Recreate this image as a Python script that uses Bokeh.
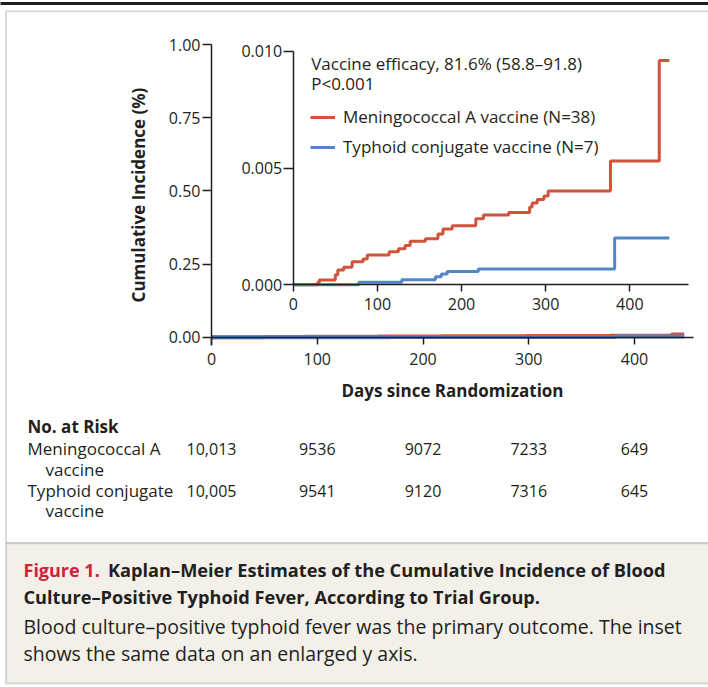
from bokeh.plotting import figure
from bokeh.models import (Range1d, LinearAxis, FixedTicker, PrintfTickFormatter, Label, LabelSet,
                          ColumnDataSource, Legend, LegendItem, BoxAnnotation)
from bokeh.core.properties import value
from bokeh.embed import file_html
from bokeh.resources import INLINE

# ---------------- data ----------------
red_days = [0, 29, 31, 50, 53, 60, 70, 83, 88, 114, 125, 133, 139, 157, 172, 178, 189,
            217, 226, 256, 281, 284, 290, 298, 303, 377, 435, 447]
red_inc = [0, 0.0001, 0.00021, 0.00043, 0.00063, 0.00075, 0.00099, 0.00111, 0.00128, 0.00142,
           0.00154, 0.00168, 0.00186, 0.00197, 0.00218, 0.00239, 0.00253, 0.00283, 0.00299,
           0.0031, 0.00333, 0.0035, 0.00365, 0.0038, 0.00402, 0.0053, 0.0096, 0.0096]
blue_days = [0, 78, 129, 169, 176, 183, 220, 382, 447]
blue_inc = [0, 0.00011, 0.00022, 0.00034, 0.00046, 0.00057, 0.00068, 0.0020, 0.0020]

red_label = "Meningococcal A vaccine (N=38)"
blue_label = "Typhoid conjugate vaccine (N=7)"

main_xticks = [0, 100, 200, 300, 400]
main_yticks = [0, 0.25, 0.5, 0.75, 1.0]
inset_xticks = [0, 100, 200, 300, 400]
inset_yticks = [0, 0.005, 0.010]

risk_days = [0, 100, 200, 300, 400]
risk_mena = ["10,013", "9536", "9072", "7233", "649"]
risk_tcv = ["10,005", "9541", "9120", "7316", "645"]

# ---------------- styles ----------------
FONT = "Open Sans"
INK = "#231f20"
RED = "#d0533a"
BLUE = "#5186c9"
FIGRED = "#cf2436"
GRAY = "#858585"
BEIGE = "#f3f0ea"

W, H = 708, 687

# The frame covers the whole canvas; every axis sits at a fixed location inside it.
p = figure(width=W, height=H, title=None,
           x_range=Range1d(-199.53, 469.97), y_range=Range1d(-1.19679, 1.15033),
           output_backend="svg", toolbar_location=None,
           min_border_left=0, min_border_right=0, min_border_top=0, min_border_bottom=0)
p.extra_x_ranges = {"ix": Range1d(-347.83, 493.52)}
p.extra_y_ranges = {"iy": Range1d(-0.017239, 0.012171)}
p.grid.visible = False
p.outline_line_color = None
p.background_fill_color = "white"
p.border_fill_color = "white"


def style_axis(ax, tick_out, standoff):
    ax.axis_line_color = INK
    ax.axis_line_width = 1.5
    ax.major_tick_line_color = INK
    ax.major_tick_line_width = 1.5
    ax.major_tick_out = tick_out
    ax.major_tick_in = 0
    ax.minor_tick_line_color = None
    ax.major_label_text_font = FONT
    ax.major_label_text_font_size = "16px"
    ax.major_label_text_color = INK
    ax.major_label_standoff = standoff
    ax.axis_label_text_font = FONT
    ax.axis_label_text_font_size = "17px"
    ax.axis_label_text_font_style = "bold"
    ax.axis_label_text_color = INK


xa = p.xaxis[0]
ya = p.yaxis[0]
xa.ticker = FixedTicker(ticks=main_xticks)
xa.fixed_location = 0
xa.bounds = (0, 455.8)
xa.axis_label = "Days since Randomization"
style_axis(xa, 7, 9)
xa.axis_label_standoff = 10

ya.ticker = FixedTicker(ticks=main_yticks)
ya.formatter = PrintfTickFormatter(format="%.2f")
ya.fixed_location = 0
ya.bounds = (-0.0284, 1.0)
ya.axis_label = "Cumulative Incidence (%)"
style_axis(ya, 9, 2)
ya.axis_label_standoff = 16

ixa = LinearAxis(x_range_name="ix", y_range_name="iy", fixed_location=0, bounds=(0, 470),
                 ticker=FixedTicker(ticks=inset_xticks))
style_axis(ixa, 7, 6)
p.add_layout(ixa, "below")

iya = LinearAxis(x_range_name="ix", y_range_name="iy", fixed_location=0, bounds=(0, 0.010),
                 ticker=FixedTicker(ticks=inset_yticks), formatter=PrintfTickFormatter(format="%.3f"))
style_axis(iya, 10, 1)
p.add_layout(iya, "left")

# ---------------- boxes (frame) ----------------
def box(top, bottom, left=5.5, right=W + 20, fill=None, line=None, lw=2):
    p.add_layout(BoxAnnotation(left=left, right=right, top=H - top, bottom=H - bottom,
                               left_units="screen", right_units="screen", top_units="screen",
                               bottom_units="screen",
                               fill_color=fill if fill else "white", fill_alpha=1 if fill else 0,
                               line_color=line, line_width=lw, level="underlay"))


box(1.5, 4.5, left=-10, fill="#1e1e1e")
box(10.7, 542.7, line=GRAY)
box(542.7, 683, fill=BEIGE, line=GRAY)

# ---------------- curves ----------------
p.step(red_days, red_inc, mode="after", line_color=RED, line_width=4)
p.step(blue_days, blue_inc, mode="after", line_color=BLUE, line_width=4)
r_red = p.step(red_days, red_inc, mode="after", line_color=RED, line_width=3,
               x_range_name="ix", y_range_name="iy")
r_blue = p.step(blue_days, blue_inc, mode="after", line_color=BLUE, line_width=3,
                x_range_name="ix", y_range_name="iy")

leg = Legend(items=[LegendItem(label=red_label, renderers=[r_red]),
                    LegendItem(label=blue_label, renderers=[r_blue])],
             location=(310, H - 158.7), orientation="vertical", padding=0, margin=0, spacing=6,
             glyph_width=25, glyph_height=24, label_height=24, label_standoff=8,
             label_text_font=FONT, label_text_font_size="17px", label_text_color=INK,
             border_line_color=None, background_fill_alpha=0)
p.add_layout(leg)


def lab(text, X, Y, size, bold=False, color=INK):
    # Y is the vertical middle of the text line, in page pixels from the top
    p.add_layout(Label(x=X, y=H - Y, x_units="screen", y_units="screen", text=text,
                       text_font=FONT, text_font_size=size,
                       text_font_style="bold" if bold else "normal",
                       text_color=color, text_align="left", text_baseline="middle"))


# inset annotation
lab("Vaccine efficacy, 81.6% (58.8\u201391.8)", 310.7, 63.4, "17px")
lab("P<0.001", 310.7, 83.4, "17px")

# risk table
lab("No. at Risk", 27, 426.3, "17px", bold=True)
lab("Meningococcal A", 27, 448, "17px")
lab("vaccine", 45, 469, "17px")
lab("Typhoid conjugate", 27, 490.3, "17px")
lab("vaccine", 45, 510, "17px")
src = ColumnDataSource(dict(day=risk_days, mena=risk_mena, tcv=risk_tcv))
for col, Y in (("mena", 448), ("tcv", 490.5)):
    p.add_layout(LabelSet(x="day", y=H - Y, x_units="data", y_units="screen", text=col,
                          source=src, text_align="center", text_baseline="middle",
                          text_font=value(FONT), text_font_size=value("16px"),
                          text_color=INK))

# caption
lab("Figure 1.", 23, 569.3, "18px", bold=True, color=FIGRED)
lab("Kaplan\u2013Meier Estimates of the Cumulative Incidence of Blood", 107.5, 569.3, "18.2px", bold=True)
lab("Culture\u2013Positive Typhoid Fever, According to Trial Group.", 23, 596.3, "18.2px", bold=True)
lab("Blood culture\u2013positive typhoid fever was the primary outcome. The inset", 23, 626, "19.5px")
lab("shows the same data on an enlarged y axis.", 23, 652.5, "19.5px")

open("out.html", "w").write(file_html(p, INLINE))
